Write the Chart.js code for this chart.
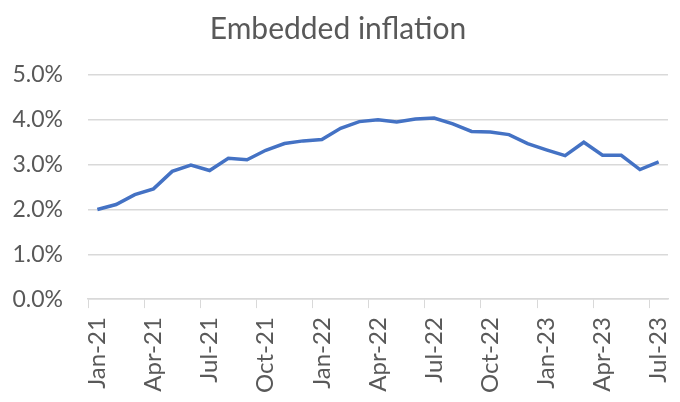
<!DOCTYPE html>
<html>
<head>
<meta charset="utf-8">
<script src="https://cdn.jsdelivr.net/npm/chart.js@4"></script>
<style>
  html, body { margin: 0; padding: 0; background: #fff; }
  #wrap { width: 680px; height: 402px; }
</style>
</head>
<body>
<div id="wrap"><canvas id="inflChart"></canvas></div>
<script>
const months = [
    "Jan-21", "Feb-21", "Mar-21", "Apr-21", "May-21", "Jun-21", "Jul-21", "Aug-21", "Sep-21", "Oct-21", "Nov-21", "Dec-21",
    "Jan-22", "Feb-22", "Mar-22", "Apr-22", "May-22", "Jun-22", "Jul-22", "Aug-22", "Sep-22", "Oct-22", "Nov-22", "Dec-22",
    "Jan-23", "Feb-23", "Mar-23", "Apr-23", "May-23", "Jun-23", "Jul-23"
];
const embedded = [
    2.00, 2.11, 2.33, 2.46, 2.85, 2.99, 2.87, 3.14, 3.11, 3.32, 3.47, 3.53,
    3.56, 3.81, 3.96, 4.00, 3.95, 4.02, 4.04, 3.91, 3.74, 3.73, 3.67, 3.47,
    3.33, 3.20, 3.50, 3.21, 3.21, 2.89, 3.06
];
const yTicks = [0, 1, 2, 3, 4, 5];

const textColor = "#595959";
const gridColor = "#d9d9d9";
const fontFamily = "Lato, 'Open Sans', sans-serif";

new Chart(document.getElementById("inflChart"), {
    type: "line",
    data: {
        labels: months,
        datasets: [{
            label: "Embedded inflation",
            data: embedded,
            borderColor: "#4472C4",
            borderWidth: 3.5,
            pointRadius: 0,
            tension: 0,
            fill: false
        }]
    },
    options: {
        responsive: true,
        maintainAspectRatio: false,
        animation: false,
        layout: { padding: { left: 8, right: 12, top: 11, bottom: 0 } },
        scales: {
            x: {
                offset: true,
                afterFit: axis => { axis.paddingLeft = 0; axis.paddingRight = 0; },
                grid: {
                    offset: true,
                    drawOnChartArea: false,
                    tickLength: 9,
                    // tick mark only every 3rd month
                    color: ctx => (ctx.index % 3 === 0 ? gridColor : "rgba(0,0,0,0)")
                },
                border: { color: gridColor, width: 1.5 },
                ticks: {
                    autoSkip: false,
                    maxRotation: 90,
                    minRotation: 90,
                    padding: 9,
                    color: textColor,
                    font: { family: fontFamily, size: 24 },
                    callback: (v, i) => (i % 3 === 0 ? months[i] : "")
                }
            },
            y: {
                min: yTicks[0],
                max: yTicks[yTicks.length - 1],
                afterBuildTicks: axis => { axis.ticks = yTicks.map(v => ({ value: v })); },
                afterFit: axis => { axis.width = 80; },
                grid: { color: gridColor, lineWidth: 1.5, drawTicks: false },
                border: { display: false },
                ticks: {
                    padding: 25,
                    color: textColor,
                    font: { family: fontFamily, size: 23 },
                    callback: v => v.toFixed(1) + "%"
                }
            }
        },
        plugins: {
            legend: { display: false },
            tooltip: { enabled: false },
            title: {
                display: true,
                text: "Embedded inflation",
                color: textColor,
                font: { family: fontFamily, size: 30, weight: "normal" },
                padding: { top: 0, bottom: 28 }
            }
        }
    }
});
</script>
</body>
</html>
